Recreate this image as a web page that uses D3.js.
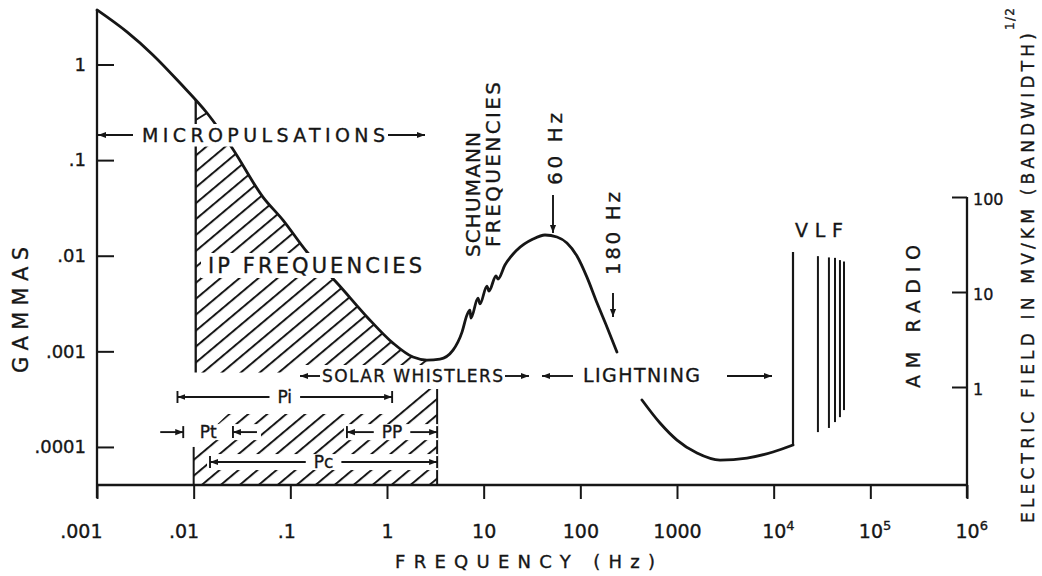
<!DOCTYPE html>
<html><head><meta charset="utf-8">
<script src="https://cdn.jsdelivr.net/npm/d3@7"></script>
<style>
body{margin:0;background:#fff}
svg{display:block;background:#fff}
text{font-family:"DejaVu Sans",sans-serif;fill:#161616;stroke:#161616;stroke-width:0.35px}
</style>
</head><body>
<svg id="chart" width="1042" height="576"></svg>
<script>
// ---------------- data ----------------
const xTickValues = [0.001, 0.01, 0.1, 1, 10, 100, 1000, 1e4, 1e5, 1e6];
const xTickLabels = [".001", ".01", ".1", "1", "10", "100", "1000", "10^4", "10^5", "10^6"];
const yTickValues = [1, 0.1, 0.01, 0.001, 0.0001];
const yTickLabels = ["1", ".1", ".01", ".001", ".0001"];
const eTickValues = [100, 10, 1];
const eTickLabels = ["100", "10", "1"];

// natural noise spectrum (frequency Hz, gammas) - first part up to ~240 Hz
const curveAFreq  = [0.001, 0.00204, 0.00379, 0.00723, 0.01375, 0.025, 0.0521, 0.0839, 0.1486, 0.304, 0.621, 1.153, 1.858, 2.59, 3.53, 4.82, 5.97, 6.72, 7.21, 7.39, 8.73, 9.16, 10.8, 11.35, 13.4, 14.06, 16.6, 22.1, 32.4, 43.1, 57.3, 72.7, 92.3, 117, 149, 189, 239];
const curveAGamma = [3.72, 2.19, 1.26, 0.64, 0.311, 0.134, 0.0411, 0.0236, 0.01094, 0.00518, 0.00229, 0.00122, 0.000871, 0.000811, 0.00083, 0.00103, 0.00159, 0.0024, 0.0027, 0.00223, 0.00361, 0.00313, 0.00482, 0.00427, 0.00614, 0.0057, 0.008, 0.01148, 0.01496, 0.01647, 0.0157, 0.01358, 0.00993, 0.00598, 0.0032, 0.00179, 0.000984];
// second part (beyond lightning label) up to the VLF edge
const curveBFreq  = [434, 667, 1000, 1610, 2790, 5300, 9840, 15850];
const curveBGamma = [0.00031, 0.000178, 0.000118, 0.0000863, 0.0000729, 0.0000766, 0.0000885, 0.0001047];
const vlfEdgeTopGamma = 0.01094;
// VLF lines
const vlfFreq      = [28700, 37300, 43100, 48500, 53400];
const vlfTopGamma  = [0.0099, 0.0096, 0.0095, 0.0090, 0.0087];
const vlfBotGamma  = [0.000143, 0.000158, 0.000182, 0.000205, 0.000243];

// IP frequency shaded region
const ipFreqRange  = [0.0105, 3.3];
const ipGammaRange = [0.0006, 0.14];
const lowerHatchFreq  = [0.01, 0.01, 0.0226, 1.074, 3.3, 3.3];
const lowerHatchGamma = [4e-5, 1e-4, 0.000221, 0.000221, 0.000466, 4e-5];
const triangleFreq  = [0.0105, 0.01375];
const triangleGamma = [0.2627, 0.311];

// pulsation bands
const bandLabels = ["Pi", "Pt", "PP", "Pc"];
const bandFrom   = [0.0068, 0.0078, 0.385, 0.01476];
const bandTo     = [1.13, 0.0255, 3.3, 3.3];
const bandGamma  = [0.000333, 0.000143, 0.000143, 0.0000695];
const inwardBands = ["Pt"];

// ---------------- scales ----------------
const svg = d3.select("#chart");
const ink = "#161616";
const x  = d3.scaleLog().domain([1e-3, 1e6]).range([97, 967]);
const y  = d3.scaleLog().domain([4e-5, 1]).range([485, 64.5]);
const yE = d3.scaleLog().domain([1, 100]).range([387, 197]);

const defs = svg.append("defs");
const pat = defs.append("pattern").attr("id", "hatch")
  .attr("patternUnits", "userSpaceOnUse").attr("width", 12.2).attr("height", 12)
  .attr("patternTransform", "rotate(50)");
pat.append("line").attr("x1", 1).attr("y1", -1).attr("x2", 1).attr("y2", 13)
  .attr("stroke", ink).attr("stroke-width", 2);
defs.append("marker").attr("id", "ah").attr("viewBox", "0 0 10 10")
  .attr("refX", 10).attr("refY", 5).attr("markerWidth", 8).attr("markerHeight", 8)
  .attr("markerUnits", "userSpaceOnUse").attr("orient", "auto")
  .append("path").attr("d", "M0,1.2L10,5L0,8.8Z").attr("fill", ink);

const curveA = curveAFreq.map((f, i) => [f, curveAGamma[i]]);
const curveB = curveBFreq.map((f, i) => [f, curveBGamma[i]]);
const yBottom = y.range()[0];

const under = d3.area().x(d => x(d[0])).y0(yBottom).y1(d => y(d[1])).curve(d3.curveMonotoneX);
defs.append("clipPath").attr("id", "under").append("path").attr("d", under(curveA));

// ---------------- hatching ----------------
svg.append("rect")
  .attr("x", x(ipFreqRange[0])).attr("width", x(ipFreqRange[1]) - x(ipFreqRange[0]))
  .attr("y", y(ipGammaRange[1])).attr("height", y(ipGammaRange[0]) - y(ipGammaRange[1]))
  .attr("fill", "url(#hatch)").attr("clip-path", "url(#under)");
svg.append("path")
  .attr("d", d3.line()(lowerHatchFreq.map((f, i) => [x(f), y(lowerHatchGamma[i])])) + "Z")
  .attr("fill", "url(#hatch)");

// ---------------- curves ----------------
const line = d3.line().x(d => x(d[0])).y(d => y(d[1])).curve(d3.curveMonotoneX);
const curveStyle = s => s.attr("fill", "none").attr("stroke", ink).attr("stroke-width", 2.8)
  .attr("stroke-linejoin", "round").attr("stroke-linecap", "round");
svg.append("path").attr("d", line(curveA)).call(curveStyle);
svg.append("path").attr("d", line(curveB)).call(curveStyle);
const edgeF = curveBFreq[curveBFreq.length - 1];
svg.append("line").attr("x1", x(edgeF)).attr("x2", x(edgeF))
  .attr("y1", y(curveBGamma[curveBGamma.length - 1])).attr("y2", y(vlfEdgeTopGamma))
  .attr("stroke", ink).attr("stroke-width", 2.2);
vlfFreq.forEach((f, i) => {
  svg.append("line").attr("x1", x(f)).attr("x2", x(f))
    .attr("y1", y(vlfTopGamma[i])).attr("y2", y(vlfBotGamma[i]))
    .attr("stroke", ink).attr("stroke-width", 2);
});

// region boundaries
svg.append("line").attr("x1", x(ipFreqRange[0])).attr("x2", x(ipFreqRange[0]))
  .attr("y1", 0).attr("y2", y(ipGammaRange[0])).attr("stroke", ink).attr("stroke-width", 2.3)
  .attr("clip-path", "url(#under)");
svg.append("line").attr("x1", x(triangleFreq[0])).attr("y1", y(triangleGamma[0]))
  .attr("x2", x(triangleFreq[1])).attr("y2", y(triangleGamma[1])).attr("stroke", ink).attr("stroke-width", 2);
svg.append("line").attr("x1", x(3.3)).attr("x2", x(3.3)).attr("y1", y(0.000466)).attr("y2", yBottom)
  .attr("stroke", ink).attr("stroke-width", 2);
svg.append("line").attr("x1", x(0.01)).attr("x2", x(0.01)).attr("y1", y(1e-4)).attr("y2", yBottom)
  .attr("stroke", ink).attr("stroke-width", 2);

// ---------------- helpers ----------------
function whiteRect(x0, y0, x1, y1) {
  svg.append("rect").attr("x", x0).attr("y", y0).attr("width", x1 - x0).attr("height", y1 - y0).attr("fill", "#fff");
}
function arrow(x1, y1, x2, y2) {
  svg.append("line").attr("x1", x1).attr("y1", y1).attr("x2", x2).attr("y2", y2)
    .attr("stroke", ink).attr("stroke-width", 1.9).attr("marker-end", "url(#ah)");
}
function hText(str, x0, y0, size, len) {
  const t = svg.append("text").attr("x", x0).attr("y", y0).attr("font-size", size).text(str);
  if (len) t.attr("textLength", len).attr("lengthAdjust", "spacing");
  return t;
}
function vText(str, bx, y0, size, len) {
  const t = svg.append("text").attr("transform", `translate(${bx},${y0}) rotate(-90)`)
    .attr("font-size", size).text(str);
  if (len) t.attr("textLength", len).attr("lengthAdjust", "spacing");
  return t;
}

// white-outs behind labels
whiteRect(99, 124, 431, 146.5);
whiteRect(201, 253, 429, 278);
whiteRect(296, 365, 533, 389);

// ---------------- pulsation bands ----------------
bandLabels.forEach((lab, i) => {
  const x1 = x(bandFrom[i]), x2 = x(bandTo[i]), yy = y(bandGamma[i]);
  const inward = inwardBands.includes(lab);
  whiteRect(x1 - (inward ? 26 : 3), yy - 8, x2 + (inward ? 28 : 1), yy + 8);
  const mid = (x1 + x2) / 2;
  const t = svg.append("text").attr("x", mid).attr("y", yy + 6).attr("font-size", 17)
    .attr("text-anchor", "middle").text(lab);
  const tw = t.node().getComputedTextLength();
  [x1, x2].forEach(bx => svg.append("line").attr("x1", bx).attr("x2", bx)
    .attr("y1", yy - 6).attr("y2", yy + 6).attr("stroke", ink).attr("stroke-width", 1.9));
  if (inward) {
    arrow(x1 - 23, yy, x1, yy);
    arrow(x2 + 24, yy, x2, yy);
  } else {
    arrow(mid - tw / 2 - 8, yy, x1, yy);
    arrow(mid + tw / 2 + 8, yy, x2, yy);
  }
});

// ---------------- labels ----------------
hText("MICROPULSATIONS", 142, 142, 19, 243);
arrow(133, 135, 98, 135);
arrow(388, 135, 425, 135);
hText("IP FREQUENCIES", 208, 273, 21, 214);
hText("SOLAR WHISTLERS", 322, 382, 17, 181);
arrow(320, 376, 300, 376);
arrow(505, 376, 529, 376);
hText("LIGHTNING", 583, 382, 19, 117);
arrow(573, 376, 542, 376);
arrow(727, 376, 772, 376);
hText("VLF", 795, 237, 19, 48);
vText("60 Hz", 562, 185, 20, 72);
arrow(553, 195, 553, 233);
vText("180 Hz", 620, 275, 20, 83);
arrow(613, 293, 613, 317);
vText("SCHUMANN", 480, 257, 20, 125);
vText("FREQUENCIES", 500, 247, 20, 165);
vText("AM RADIO", 920, 388, 19, 143);
vText("GAMMAS", 28, 373, 21, 126);
hText("FREQUENCY  (Hz)", 395, 568, 18, 260);
vText("ELECTRIC FIELD IN MV/KM (BANDWIDTH)", 1034, 523, 17, 490);
vText("1/2", 1014, 30, 12, 22);

// ---------------- axes ----------------
// left axis
svg.append("line").attr("x1", x(1e-3)).attr("x2", x(1e-3))
  .attr("y1", y(curveAGamma[0])).attr("y2", yBottom + 13)
  .attr("stroke", ink).attr("stroke-width", 2.3);
const gy = svg.append("g").attr("transform", `translate(${x(1e-3)},0)`)
  .call(d3.axisLeft(y).tickValues(yTickValues).tickFormat((d, i) => yTickLabels[i])
    .tickSizeInner(-17).tickSizeOuter(0).tickPadding(11));
gy.select(".domain").remove();
gy.selectAll(".tick line").attr("stroke", ink).attr("stroke-width", 2);
gy.selectAll(".tick text").attr("font-size", 18).attr("font-family", "DejaVu Sans").attr("fill", ink);

// bottom axis
svg.append("line").attr("x1", x(1e-3)).attr("x2", x(1e6)).attr("y1", yBottom).attr("y2", yBottom)
  .attr("stroke", ink).attr("stroke-width", 2.3);
const gx = svg.append("g").attr("transform", `translate(0,${yBottom})`)
  .call(d3.axisBottom(x).tickValues(xTickValues).tickFormat(() => "")
    .tickSizeInner(14).tickSizeOuter(0).tickPadding(26));
gx.select(".domain").remove();
gx.selectAll(".tick line").attr("stroke", ink).attr("stroke-width", 2);
gx.selectAll(".tick text").each(function (d, i) {
  const lab = xTickLabels[i];
  const t = d3.select(this).attr("font-size", 19).attr("font-family", "DejaVu Sans").attr("fill", ink);
  if (lab.includes("^")) {
    const [b, e] = lab.split("^");
    t.attr("text-anchor", "start").attr("x", -12);
    t.append("tspan").text(b);
    t.append("tspan").attr("dy", -8).attr("font-size", 13).text(e);
  } else if (lab.startsWith(".")) {
    t.attr("text-anchor", "end").attr("x", 5).text(lab);
  } else {
    t.text(lab);
  }
});

// right axis
svg.append("line").attr("x1", x(1e6)).attr("x2", x(1e6)).attr("y1", yE(100)).attr("y2", yBottom + 13)
  .attr("stroke", ink).attr("stroke-width", 2.3);
const ge = svg.append("g").attr("transform", `translate(${x(1e6)},0)`)
  .call(d3.axisRight(yE).tickValues(eTickValues).tickFormat((d, i) => eTickLabels[i])
    .tickSizeInner(-15).tickSizeOuter(0).tickPadding(6));
ge.select(".domain").remove();
ge.selectAll(".tick line").attr("stroke", ink).attr("stroke-width", 2);
ge.selectAll(".tick text").attr("font-size", 16).attr("font-family", "DejaVu Sans").attr("fill", ink).attr("dy", "0.45em");
</script>
</body></html>
